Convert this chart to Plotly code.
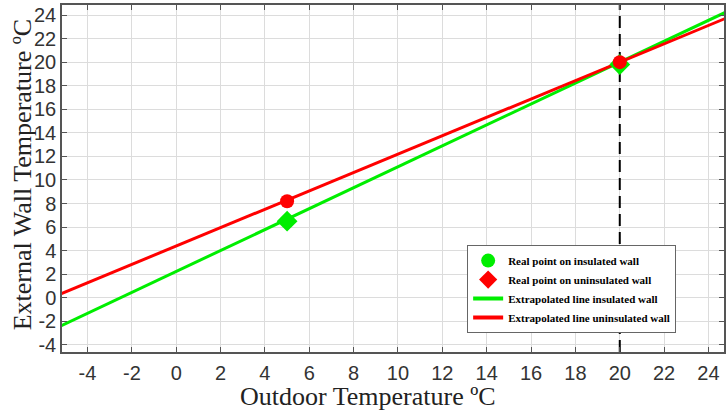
import plotly.graph_objects as go

# Data
real_x = [5, 20]
real_uninsulated_y = [8.2, 20.0]   # red circles
real_insulated_y = [6.5, 19.8]     # green diamonds
line_x = [-5.2, 24.8]
line_insulated_y = [-2.38, 24.26]
line_uninsulated_y = [0.34, 23.74]
ref_x = 20
x_ticks = list(range(-4, 25, 2))
y_ticks = list(range(-4, 25, 2))
x_tick_labels = [str(v) for v in x_ticks]
y_tick_labels = [str(v) for v in y_ticks]

fig = go.Figure()

fig.add_trace(go.Scatter(x=[ref_x, ref_x], y=[-4.6, 24.85], mode="lines",
                         line=dict(color="black", width=2, dash="12px,6px"), showlegend=False))
fig.add_trace(go.Scatter(x=line_x, y=line_insulated_y, mode="lines",
                         line=dict(color="#00ee00", width=3), showlegend=False))
fig.add_trace(go.Scatter(x=line_x, y=line_uninsulated_y, mode="lines",
                         line=dict(color="#ff0000", width=3), showlegend=False))
fig.add_trace(go.Scatter(x=real_x, y=real_insulated_y, mode="markers",
                         marker=dict(symbol="diamond", size=16, color="#00ee00"), showlegend=False))
fig.add_trace(go.Scatter(x=real_x, y=real_uninsulated_y, mode="markers",
                         marker=dict(symbol="circle", size=14, color="#ff0000"), showlegend=False))

# legend entries
fig.add_trace(go.Scatter(x=[None], y=[None], mode="markers", name="Real point on insulated wall",
                         marker=dict(symbol="circle", size=14, color="#00ee00")))
fig.add_trace(go.Scatter(x=[None], y=[None], mode="markers", name="Real point on uninsulated wall",
                         marker=dict(symbol="diamond", size=14, color="#ff0000")))
fig.add_trace(go.Scatter(x=[None], y=[None], mode="lines", name="Extrapolated line insulated wall",
                         line=dict(color="#00ee00", width=4)))
fig.add_trace(go.Scatter(x=[None], y=[None], mode="lines", name="Extrapolated line uninsulated wall",
                         line=dict(color="#ff0000", width=4)))

axis_common = dict(showgrid=True, gridcolor="#dcdcdc", gridwidth=1, zeroline=False,
                   showline=True, linecolor="#555555", linewidth=1.5, mirror="ticks",
                   ticks="inside", ticklen=5, tickcolor="#555555", automargin=False,
                   tickfont=dict(family="Liberation Sans", size=20, color="#333333"))

fig.update_layout(
    width=726, height=414,
    margin=dict(l=62, r=2, t=5, b=62),
    plot_bgcolor="white", paper_bgcolor="white",
    xaxis=dict(range=[-5.15, 24.7], tickvals=x_ticks, ticktext=x_tick_labels,
               ticklabelstandoff=2, **axis_common),
    yaxis=dict(range=[-4.6, 24.85], tickvals=y_ticks, ticktext=y_tick_labels,
               ticklabelstandoff=0, **axis_common),
    legend=dict(x=0.612, y=0.308, xanchor="left", yanchor="top",
                bgcolor="white", bordercolor="#666666", borderwidth=1,
                font=dict(family="Liberation Serif", size=11, color="black", weight="bold"),
                itemwidth=30, tracegroupgap=0),
    annotations=[
        dict(text="Outdoor Temperature ºC", xref="paper", yref="paper", x=0.462, y=-0.127,
             xanchor="center", yanchor="middle", showarrow=False,
             font=dict(family="Liberation Serif", size=26, color="#222222")),
        dict(text="External Wall Temperature ºC", xref="paper", yref="paper", x=-0.060, y=0.51,
             xanchor="center", yanchor="middle", showarrow=False, textangle=-90,
             font=dict(family="Liberation Serif", size=26, color="#222222")),
    ],
)

fig.write_html("out.html", config={"displayModeBar": False},
               post_script="document.body.style.margin='0px';")
